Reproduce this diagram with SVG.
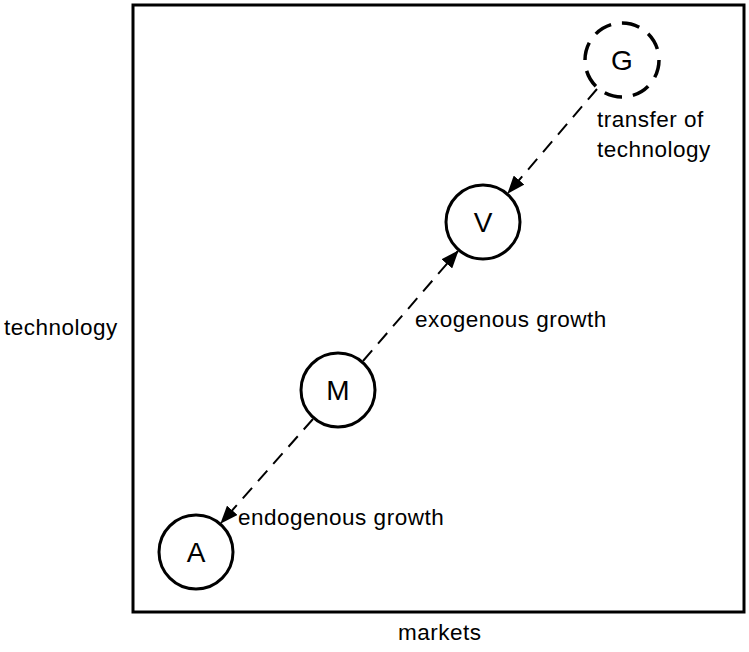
<svg xmlns="http://www.w3.org/2000/svg" width="749" height="652" viewBox="0 0 749 652">
  <style>
    .frame { fill: none; stroke: #000; stroke-width: 3; }
    .node { fill: #fff; stroke: #000; stroke-width: 3; }
    .node.dashed { stroke-width: 3.5; stroke-dasharray: 18 11; }
    .letter { font-family: "Liberation Sans", Arial, sans-serif; font-size: 28px; fill: #000; text-anchor: middle; }
    .label { font-family: "Liberation Sans", Arial, sans-serif; font-size: 22.5px; letter-spacing: 0.5px; fill: #000; }
    .link { fill: none; stroke: #000; stroke-width: 2; stroke-dasharray: 14 9; }
  </style>
  <defs>
    <marker id="arrow" markerUnits="userSpaceOnUse" markerWidth="18" markerHeight="14" refX="17" refY="7" orient="auto">
      <path d="M0,0 L18,7 L0,14 z" fill="#000"/>
    </marker>
  </defs>

  <rect class="frame" x="133" y="5" width="611" height="607"/>

  <text class="label" x="4" y="335">technology</text>
  <text class="label" x="398" y="640">markets</text>

  <g id="connectors">
    <line class="link" x1="597" y1="89" x2="508" y2="193" marker-end="url(#arrow)"/>
    <line class="link" x1="363" y1="361" x2="458" y2="251" marker-end="url(#arrow)"/>
    <line class="link" x1="313" y1="419" x2="221" y2="523" marker-end="url(#arrow)"/>
  </g>

  <g id="node-G">
    <circle class="node dashed" cx="622" cy="60" r="37"/>
    <text class="letter" x="622" y="70">G</text>
  </g>
  <g id="node-V">
    <circle class="node" cx="483" cy="222" r="37"/>
    <text class="letter" x="483" y="232">V</text>
  </g>
  <g id="node-M">
    <circle class="node" cx="338" cy="390" r="37"/>
    <text class="letter" x="338" y="400">M</text>
  </g>
  <g id="node-A">
    <circle class="node" cx="196" cy="552" r="37"/>
    <text class="letter" x="196" y="562">A</text>
  </g>

  <g id="labels">
    <text class="label" x="597" y="127">transfer of</text>
    <text class="label" x="597" y="157">technology</text>
    <text class="label" x="415" y="327">exogenous growth</text>
    <text class="label" x="238" y="525">endogenous growth</text>
  </g>
</svg>
